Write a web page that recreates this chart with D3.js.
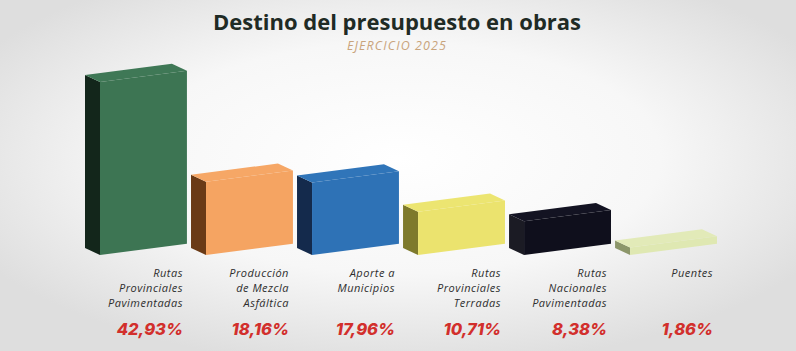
<!DOCTYPE html>
<html><head><meta charset="utf-8">
<script src="https://cdn.jsdelivr.net/npm/d3@7/dist/d3.min.js"></script>
<style>html,body{margin:0;padding:0;background:#f2f2f2;}svg{display:block;}</style>
</head><body>
<script>
const categories = [
  ["Rutas", "Provinciales", "Pavimentadas"],
  ["Producción", "de Mezcla", "Asfáltica"],
  ["Aporte a", "Municipios"],
  ["Rutas", "Provinciales", "Terradas"],
  ["Rutas", "Nacionales", "Pavimentadas"],
  ["Puentes"]
];
const values = [42.93, 18.16, 17.96, 10.71, 8.38, 1.86];
const valueLabels = ["42,93%", "18,16%", "17,96%", "10,71%", "8,38%", "1,86%"];
const frontColors = ["#3d7553", "#f5a462", "#2e72b6", "#ebe36e", "#0f0f1c", "#dfe8b2"];
const sideColors  = ["#13261b", "#6a3a16", "#142a4c", "#7e7a2c", "#1b1b24", "#8c966a"];
const topColors   = ["#3f7856", "#f6a766", "#3075b9", "#ece571", "#131322", "#e2eab8"];

const W = 796, H = 351;
const svg = d3.select("body").append("svg").attr("width", W).attr("height", H);

const defs = svg.append("defs");
const bg = defs.append("radialGradient").attr("id", "bg")
  .attr("cx", "50%").attr("cy", "45%").attr("r", "60%");
bg.append("stop").attr("offset", "0%").attr("stop-color", "#ffffff");
bg.append("stop").attr("offset", "55%").attr("stop-color", "#f7f7f7");
bg.append("stop").attr("offset", "100%").attr("stop-color", "#dedede");
svg.append("rect").attr("width", W).attr("height", H).attr("fill", "url(#bg)");

// Title
svg.append("text").attr("x", 397).attr("y", 29.5).attr("text-anchor", "middle")
  .attr("font-family", "'Open Sans', Inter, sans-serif").attr("font-weight", 700)
  .attr("font-size", 22).attr("fill", "#1f2b25")
  .text("Destino del presupuesto en obras");
svg.append("text").attr("x", 397).attr("y", 50).attr("text-anchor", "middle")
  .attr("font-family", "'Open Sans', Inter, sans-serif").attr("font-style", "italic")
  .attr("font-size", 12.5).attr("letter-spacing", 1.1).attr("fill", "#c9a47c")
  .text("EJERCICIO 2025");

const idx = d3.range(values.length);
const x = d3.scaleBand().domain(idx).range([100, 717]).paddingInner(0.18).paddingOuter(0);
const h = d3.scaleLinear().domain([0, d3.max(values)]).range([0, 173]);

const base = 255, slope = 0.13, dx = -15, dy = -7;
const bw = x.bandwidth();
const s = slope * bw;

const bars = svg.append("g").selectAll("g").data(idx).join("g");
const pts = a => a.map(p => p.join(",")).join(" ");
bars.append("polygon").attr("fill", i => sideColors[i]).attr("points", i => {
  const x0 = x(i), hh = h(values[i]);
  return pts([[x0, base], [x0, base - hh], [x0 + dx, base - hh + dy], [x0 + dx, base + dy]]);
});
bars.append("polygon").attr("fill", i => topColors[i]).attr("points", i => {
  const x0 = x(i), hh = h(values[i]);
  return pts([[x0, base - hh], [x0 + bw, base - s - hh], [x0 + bw + dx, base - s - hh + dy], [x0 + dx, base - hh + dy]]);
});
bars.append("polygon").attr("fill", i => frontColors[i]).attr("points", i => {
  const x0 = x(i), hh = h(values[i]);
  return pts([[x0, base], [x0 + bw, base - s], [x0 + bw, base - s - hh], [x0, base - hh]]);
});

// Category labels
const labels = svg.append("g").selectAll("text").data(idx).join("text")
  .attr("x", i => x(i) + bw - 4).attr("y", 277).attr("text-anchor", "end")
  .attr("font-family", "'Open Sans', Lato, sans-serif").attr("font-style", "italic")
  .attr("font-size", 11).attr("letter-spacing", 0.5).attr("fill", "#2e2e2e");
labels.selectAll("tspan").data(i => categories[i]).join("tspan")
  .attr("x", function() { return d3.select(this.parentNode).attr("x"); })
  .attr("dy", (d, j) => j === 0 ? 0 : 15).text(d => d);

// Percentages
svg.append("g").selectAll("text").data(idx).join("text")
  .attr("x", i => x(i) + bw - 4).attr("y", 335).attr("text-anchor", "end")
  .attr("font-family", "Inter, 'Open Sans', sans-serif").attr("font-style", "italic")
  .attr("font-weight", 800).attr("font-size", 16.5).attr("fill", "#d22f2c")
  .text(i => valueLabels[i]);
</script>
</body></html>
